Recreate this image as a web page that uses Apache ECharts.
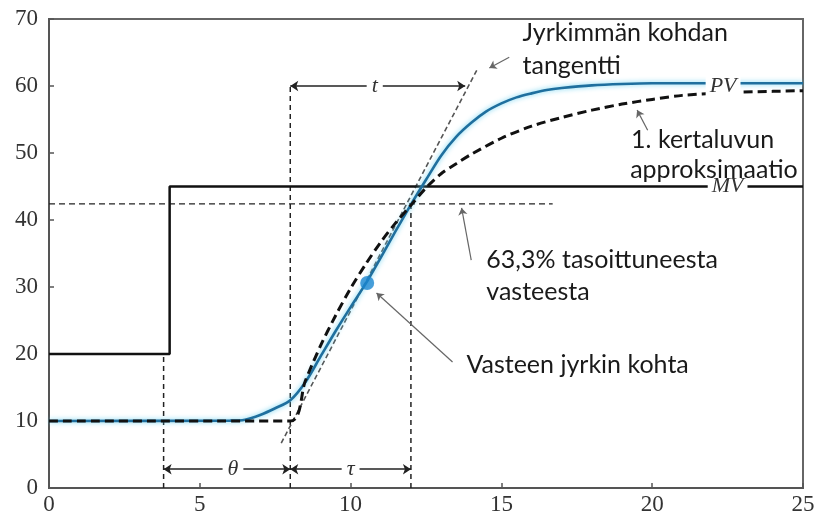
<!DOCTYPE html>
<html>
<head>
<meta charset="utf-8">
<script src="https://cdn.jsdelivr.net/npm/echarts@6/dist/echarts.min.js"></script>
<style>html,body{margin:0;padding:0;background:#fff}#c{width:819px;height:521px}</style>
</head>
<body>
<div id="c"></div>
<script>
// ---- data ----
const xTicks = [0, 5, 10, 15, 20, 25];
const yTicks = [0, 10, 20, 30, 40, 50, 60, 70];

// MV (step input)
const mvT = [0, 4, 4, 25];
const mvV = [20, 20, 45, 45];

// PV (measured response)
const pvT = [0, 6.0, 6.5, 7.0, 7.5, 8.0, 8.5, 9.0, 9.5, 10.0, 10.5, 11.0, 11.5, 12.0, 12.5, 13.0, 13.5, 14.0, 14.5, 15.0, 15.5, 16.0, 16.5, 17.0, 18.0, 19.0, 20.0, 21.0, 22.0, 23.0, 24.0, 25.0];
const pvV = [10, 10.05, 10.2, 10.9, 11.9, 13.1, 15.8, 19.6, 23.4, 27.0, 30.5, 34.4, 38.4, 42.3, 46.0, 49.6, 52.4, 54.5, 56.2, 57.4, 58.3, 58.9, 59.4, 59.7, 60.1, 60.3, 60.4, 60.4, 60.4, 60.4, 60.4, 60.4];

// 1st order approximation
const foT = [0, 8.0, 8.5, 9.0, 9.5, 10.0, 10.5, 11.0, 11.5, 12.0, 12.5, 13.0, 13.5, 14.0, 15.0, 16.0, 17.0, 18.0, 19.0, 20.0, 21.0, 22.0, 23.0, 24.0, 25.0];
const foV = [10, 10, 16.0, 21.2, 25.7, 29.8, 33.4, 36.7, 39.6, 42.2, 44.8, 46.9, 48.4, 49.8, 52.2, 54.0, 55.3, 56.4, 57.3, 58.0, 58.6, 58.9, 59.1, 59.2, 59.3];

// tangent at steepest point
const tanT = [7.7, 14.2];
const tanV = [6.7, 62.5];

// steepest point
const steepPoint = [10.55, 30.6];

// guide lines
const level633 = 42.4;
const level633End = 16.7;
const vGuides = [[3.8, 20], [8, 60], [12, 42.4]];

// dimension lines [t1, t2, level, label, labelT]
const dims = [
  [3.8, 8, 2.8, 'θ', 6.1],
  [8, 12, 2.8, 'τ', 10.0],
  [8, 13.8, 60, 't', 10.8]
];

// annotation texts [text, t, v]
const notes = [
  ['Jyrkimmän kohdan', 15.7, 67.9],
  ['tangentti', 15.7, 63.0],
  ['1. kertaluvun', 19.3, 51.9],
  ['approksimaatio', 19.27, 47.4],
  ['63,3% tasoittuneesta', 14.5, 34.0],
  ['vasteesta', 14.5, 29.3],
  ['Vasteen jyrkin kohta', 13.84, 18.4]
];
// pointer arrows [tailT, tailV, tipT, tipV]
const pointers = [
  [15.26, 64.3, 14.6, 62.7],
  [19.85, 53.4, 19.5, 56.4],
  [14.0, 34.0, 13.68, 41.8],
  [13.38, 18.8, 10.86, 29.1]
];
// series labels [text, t, v]
const seriesLabels = [
  ['PV', 22.35, 60.0],
  ['MV', 22.5, 45]
];

// ---- chart ----
const zip = (a, b) => a.map((v, i) => [v, b[i]]);
const chart = echarts.init(document.getElementById('c'), null, {renderer: 'canvas'});

const serifFont = 'Liberation Serif';
const sansFont = 'Lato';

const series = [];
vGuides.forEach(g => {
  series.push({type: 'line', data: [[g[0], 0], [g[0], g[1]]], symbol: 'none', silent: true, z: 1,
    lineStyle: {color: '#222', width: 1.5, type: [5, 4]}});
});
series.push({type: 'line', data: [[0, level633], [level633End, level633]], symbol: 'none', z: 1,
  lineStyle: {color: '#222', width: 1.3, type: [6, 4]}});
series.push({type: 'line', data: zip(tanT, tanV), symbol: 'none', z: 1,
  lineStyle: {color: '#555', width: 1.6, type: [5, 3]}});
series.push({type: 'line', data: zip(mvT, mvV), symbol: 'none', z: 3,
  lineStyle: {color: '#111', width: 2.5}});
series.push({type: 'line', data: zip(pvT, pvV), symbol: 'none', smooth: 0.3, z: 4,
  lineStyle: {color: '#1f6f9e', width: 2.6, shadowColor: 'rgba(90,205,240,0.9)', shadowBlur: 5}});
series.push({type: 'line', data: zip(foT, foV), symbol: 'none', smooth: 0.3, z: 5,
  lineStyle: {color: '#111', width: 3, type: [9, 5]}});
series.push({type: 'scatter', data: [steepPoint], symbolSize: 14, z: 6,
  itemStyle: {color: '#1a86d0'}});
series.push({type: 'lines', coordinateSystem: 'cartesian2d', z: 2,
  symbol: ['arrow', 'arrow'], symbolSize: 8,
  lineStyle: {color: '#222', width: 1.6, opacity: 1},
  data: dims.map(d => ({coords: [[d[0], d[2]], [d[1], d[2]]]}))});
series.push({type: 'lines', coordinateSystem: 'cartesian2d', z: 2,
  symbol: ['none', 'arrow'], symbolSize: 7,
  lineStyle: {color: '#666', width: 1.2, opacity: 1},
  data: pointers.map(p => ({coords: [[p[0], p[1]], [p[2], p[3]]]}))});

chart.setOption({
  animation: false,
  backgroundColor: '#fff',
  grid: {left: 49, right: 16, top: 19, bottom: 33, show: true, borderColor: '#666', borderWidth: 2},
  xAxis: {type: 'value', min: xTicks[0], max: xTicks[xTicks.length - 1], interval: 5,
    axisLine: {show: true, lineStyle: {color: '#555', width: 2}},
    axisTick: {show: true, inside: true, length: 5, lineStyle: {color: '#555', width: 1.5}},
    splitLine: {show: false},
    axisLabel: {fontFamily: serifFont, fontSize: 23, color: '#333', margin: 5}},
  yAxis: {type: 'value', min: yTicks[0], max: yTicks[yTicks.length - 1], interval: 10,
    axisLine: {show: true, lineStyle: {color: '#555', width: 2}},
    axisTick: {show: true, inside: true, length: 5, lineStyle: {color: '#555', width: 1.5}},
    splitLine: {show: false},
    axisLabel: {fontFamily: serifFont, fontSize: 23, color: '#333', margin: 11}},
  series: series
});

const px = (t, v) => chart.convertToPixel({gridIndex: 0}, [t, v]);
const graphics = [];
seriesLabels.forEach(s => {
  const p = px(s[1], s[2]);
  graphics.push({type: 'text', x: p[0], y: p[1], z: 100,
    style: {text: s[0], font: 'italic 22px ' + serifFont, fill: '#333', verticalAlign: 'middle', align: 'center',
      backgroundColor: '#fff', padding: [0, 4]}});
});
dims.forEach(d => {
  const p = px(d[4], d[2]);
  graphics.push({type: 'text', x: p[0], y: p[1], z: 100,
    style: {text: d[3], font: 'italic 22px ' + serifFont, fill: '#333', verticalAlign: 'middle', align: 'center',
      backgroundColor: '#fff', padding: [0, 5]}});
});
notes.forEach(n => {
  const p = px(n[1], n[2]);
  graphics.push({type: 'text', x: p[0], y: p[1], z: 110,
    style: {text: n[0], font: '25px ' + sansFont, fill: '#1a1a1a', verticalAlign: 'middle', align: 'left'}});
});
chart.setOption({graphic: graphics});
</script>
</body>
</html>
